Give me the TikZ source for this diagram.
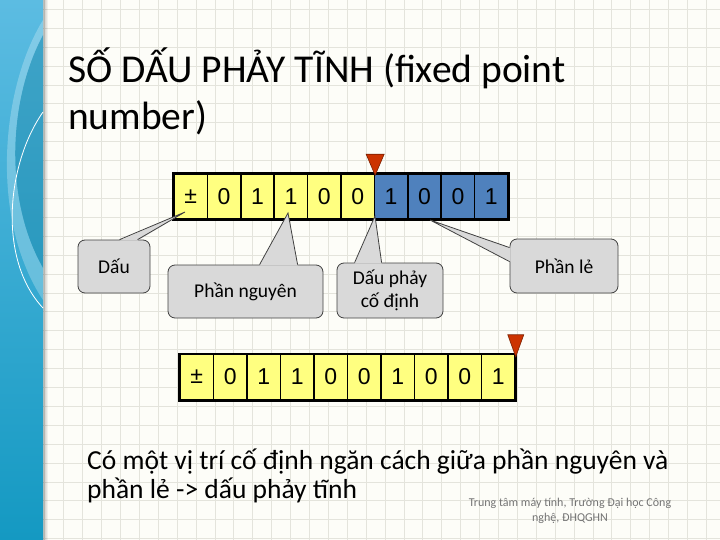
\documentclass[tikz,border=0pt]{standalone}
\usepackage{fontspec}
\setmainfont{Carlito}
\newfontfamily\cellfont{Liberation Sans}
\usetikzlibrary{positioning, calc}
\definecolor{bityellow}{HTML}{FFFF80}
\definecolor{bitblue}{HTML}{4F81BD}
\definecolor{markred}{HTML}{CC3300}
\definecolor{paper}{HTML}{FDFDF8}
\definecolor{gridline}{HTML}{E4E4DC}
\definecolor{bandtop}{HTML}{5CBCE2}
\definecolor{bandbot}{HTML}{1499C2}

\begin{document}
\begin{tikzpicture}[x=1pt, y=-1pt,
    bit/.style={rectangle, draw=black, line width=1.5pt, minimum width=33.4pt, minimum height=45pt, inner sep=0pt, font=\cellfont\fontsize{23}{23}\selectfont},
    callbox/.style={rectangle, rounded corners=7pt, draw=black!75, fill=gray!30, line width=0.8pt, align=center, font=\fontsize{19.5}{23}\selectfont},
    wedge/.style={fill=gray!30},
    wedgeline/.style={draw=black!75, line width=0.8pt},
    marker/.style={fill=markred, draw=markred!60!black, line width=0.6pt}
]
    % slide background
    \useasboundingbox (0,0) rectangle (720,540);
    \fill[paper] (0,0) rectangle (720,540);
    \foreach \gx in {0,...,37} \draw[gridline, line width=0.6pt] ({6.9+18.9*\gx},0) -- ({6.9+18.9*\gx},540);
    \foreach \gy in {0,...,28} \draw[gridline, line width=0.6pt] (0,{9.3+18.9*\gy}) -- (720,{9.3+18.9*\gy});
    \foreach \s in {1,...,5} \fill[black, opacity=0.05] (43,0) rectangle ({43+\s},540);
    \shade[top color=bandtop, bottom color=bandbot] (0,0) rectangle (43,540);
    \fill[bandbot!80!black, opacity=0.35] (43,35) .. controls (8,100) and (4,200) .. (43,268) -- cycle;
    \fill[white, opacity=0.25] (43,20) .. controls (0,90) and (-10,220) .. (43,300) -- (43,268) .. controls (4,200) and (8,100) .. (43,35) -- cycle;
    \draw[white, line width=0.8pt] (43,112) .. controls (6,165) and (-2,260) .. (43,308);

    % title
    \node[anchor=base west, inner sep=0pt, font=\fontsize{39.5}{44}\selectfont] (title1) at (68,83) {SỐ DẤU PHẢY TĨNH (fixed point};
    \node[anchor=base west, inner sep=0pt, font=\fontsize{39.5}{44}\selectfont] (title2) at (68,130) {number)};

    % fixed point register
    \foreach \b [count=\i from 0] in {±,0,1,1,0,0,1,0,0,1} {
        \ifnum\i<6 \def\bfill{bityellow}\else\def\bfill{bitblue}\fi
        \node[bit, fill=\bfill] (top\i) at ({174+33.4*(\i+0.5)},196.5) {\b};
    }
    \draw[line width=2.5pt] (top0.north west) rectangle (top9.south east);
    \filldraw[marker] ($(top5.north east)+(0,2)$) -- ++(-9,-21) -- ++(18,0) -- cycle;

    % same bits, point at the end
    \foreach \b [count=\i from 0] in {±,0,1,1,0,0,1,0,0,1}
        \node[bit, fill=bityellow, minimum width=33.5pt] (bot\i) at ({180+33.5*(\i+0.5)},377) {\b};
    \draw[line width=2.5pt] (bot0.north west) rectangle (bot9.south east);
    \filldraw[marker] ($(bot9.north east)+(0,3)$) -- ++(-8,-22) -- ++(16,0) -- cycle;

    % callouts
    \node[callbox, minimum width=72pt, minimum height=53pt] (dau) at (114,266.5) {Dấu};
    \node[callbox, minimum width=155pt, minimum height=53pt] (nguyen) at (245.5,291.5) {Phần nguyên};
    \node[callbox, minimum width=106pt, minimum height=55pt] (phay) at (390,290.5) {Dấu phảy\\cố định};
    \node[callbox, minimum width=108pt, minimum height=54pt] (le) at (564,266) {Phần lẻ};
    \coordinate (dautip) at (185,212);
    \coordinate (nguyentip) at (288,213);
    \coordinate (phaytip) at (375,216);
    \coordinate (letip) at (430,220);

    \fill[wedge] ($(dau.north west)+(42,1)$) -- (dautip) -- ($(dau.north west)+(60,1)$) -- cycle;
    \draw[wedgeline] ($(dau.north west)+(42,0)$) -- (dautip) -- ($(dau.north west)+(60,0)$);
    \fill[wedge] ($(nguyen.north west)+(92,1)$) -- (nguyentip) -- ($(nguyen.north west)+(130,1)$) -- cycle;
    \draw[wedgeline] ($(nguyen.north west)+(92,0)$) -- (nguyentip) -- ($(nguyen.north west)+(130,0)$);
    \fill[wedge] ($(phay.north west)+(18,1)$) -- (phaytip) -- ($(phay.north west)+(45,1)$) -- cycle;
    \draw[wedgeline] ($(phay.north west)+(18,0)$) -- (phaytip) -- ($(phay.north west)+(45,0)$);
    \fill[wedge] ($(le.north west)+(1,9)$) -- (letip) -- ($(le.north west)+(1,23)$) -- cycle;
    \draw[wedgeline] ($(le.north west)+(0,9)$) -- (letip) -- ($(le.north west)+(0,23)$);

    % conclusion
    \node[anchor=base west, inner sep=0pt, font=\fontsize{27.5}{30}\selectfont] (note1) at (87,469) {Có một vị trí cố định ngăn cách giữa phần nguyên và};
    \node[anchor=base west, inner sep=0pt, font=\fontsize{27.5}{30}\selectfont] (note2) at (87,498) {phần lẻ -> dấu phảy tĩnh};
    \node[align=center, inner sep=0pt, text=black!55, font=\fontsize{12}{14.5}\selectfont] (footer) at (570,511) {Trung tâm máy tính, Trường Đại học Công\\nghệ, ĐHQGHN};
\end{tikzpicture}
\end{document}
